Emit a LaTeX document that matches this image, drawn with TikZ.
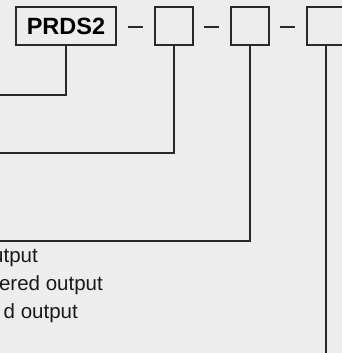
\documentclass[tikz,border=0pt]{standalone}
\usepackage{fontspec}
\setmainfont{Liberation Sans}
\usepackage{xcolor}
\definecolor{page-bg}{HTML}{ECEDEC}
\definecolor{line-dark}{HTML}{2A2A2A}
\usepackage{tikz}
\usetikzlibrary{
  positioning,
  calc
}

\begin{document}
\begin{tikzpicture}[
    x=1pt, y=-1pt,
    codebox/.style={
      rectangle,
      draw=line-dark,
      line width=1.2pt,
      minimum width=38pt,
      minimum height=38pt,
      inner sep=0pt,
      outer sep=0pt
    },
    namebox/.style={
      codebox,
      minimum width=100pt,
      font=\fontsize{23.5}{26}\selectfont\bfseries
    },
    sep/.style={
      line width=1.2pt,
      color=line-dark
    },
    lead/.style={
      line width=1.2pt,
      color=line-dark
    },
    option/.style={
      font=\fontsize{20.5}{24}\selectfont,
      text=black!90,
      anchor=base east,
      inner sep=0pt
    }
  ]
    % Page and background
    \useasboundingbox (0,0) rectangle (342,353);
    \fill[page-bg] (0,0) rectangle (342,353);
    \clip (0,0) rectangle (342,353);

    % Order code boxes
    \node[namebox] (prds) at (66,26) {PRDS2};
    \node[codebox, right=39pt of prds] (boxA) {};
    \node[codebox, right=38pt of boxA] (boxB) {};
    \node[codebox, right=38pt of boxB] (boxC) {};

    % Dashes between the boxes
    \draw[sep] ($(prds.east)+(12,1)$) -- ($(boxA.west)+(-12,1)$);
    \draw[sep] ($(boxA.east)+(11,1)$) -- ($(boxB.west)+(-12,1)$);
    \draw[sep] ($(boxB.east)+(11,1)$) -- ($(boxC.west)+(-12,1)$);

    % Free ends of the leader lines
    \coordinate (endP) at (0,95);
    \coordinate (endA) at (0,153);
    \coordinate (endB) at (0,241);
    \coordinate (endC) at (boxC.south |- 0,353);

    % Leader lines
    \draw[lead] (prds.south) |- (endP);
    \draw[lead] (boxA.south) |- (endA);
    \draw[lead] (boxB.south) |- (endB);
    \draw[lead] (boxC.south) -- (endC);

    % Option texts under the third leader
    \node[option] (optA) at (38,262) {utput};
    \node[option] (optB) at (103,290) {ered output};
    \node[option] (optC) at (78,318) {d output};
  \end{tikzpicture}
\end{document}
